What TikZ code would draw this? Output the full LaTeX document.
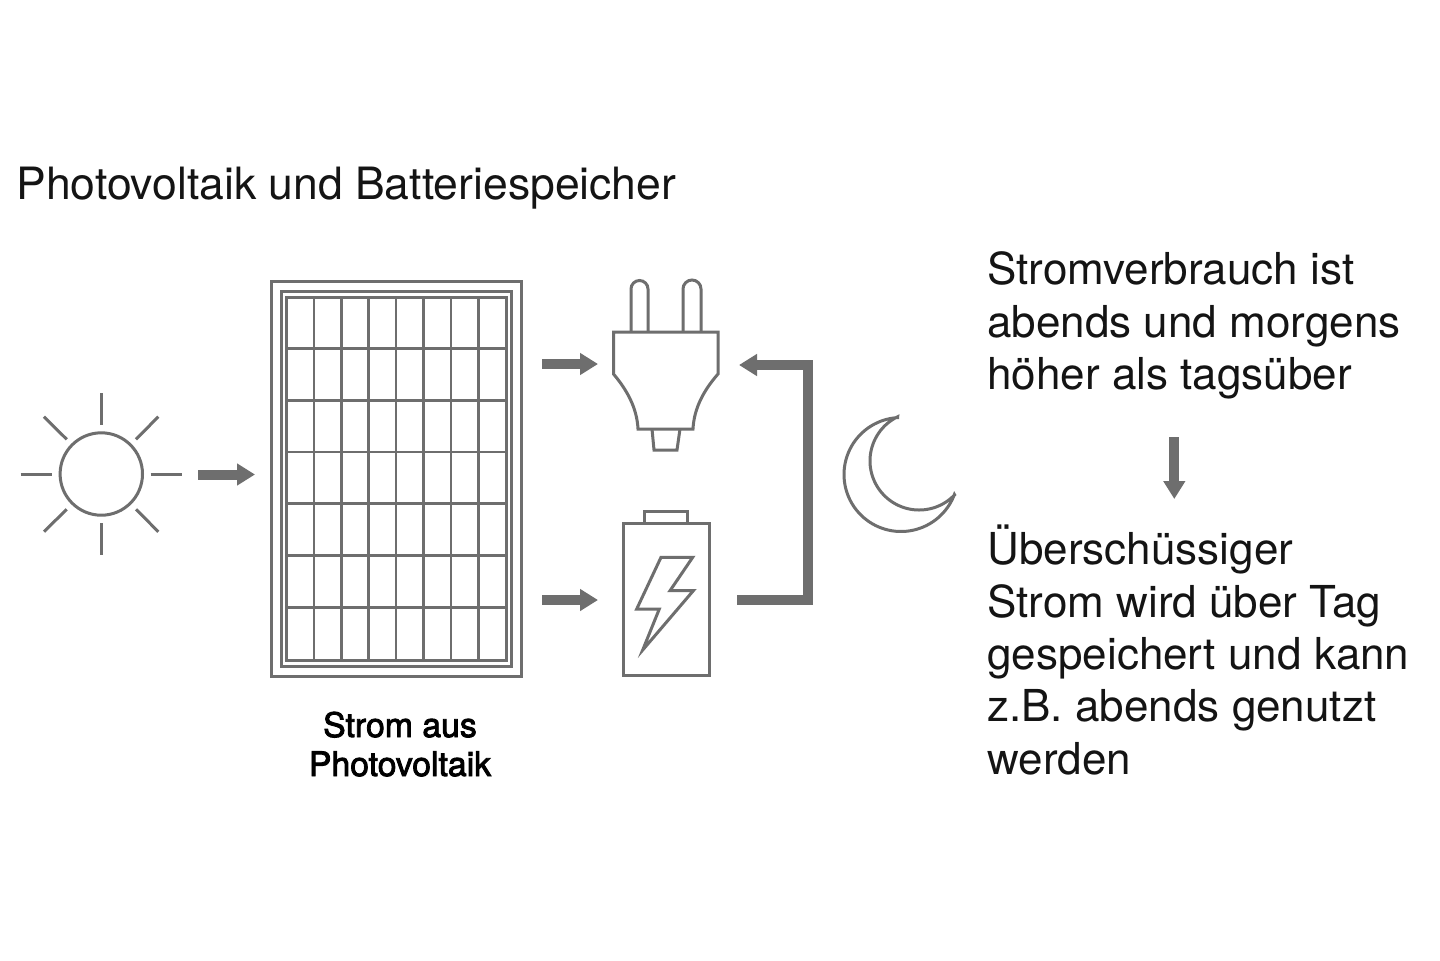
\documentclass[tikz,border=0pt]{standalone}
\usepackage{fontspec}
\usetikzlibrary{arrows.meta}
\setmainfont{TeX Gyre Heros}
\newfontfamily\labfont[FakeBold=2.5]{TeX Gyre Heros}
\definecolor{ink}{HTML}{6E6E6E}
\definecolor{txt}{HTML}{141414}
\tikzset{
  x=0.5pt,y=-0.5pt,
  icon/.style={draw=ink,line width=1.5pt,fill=none},
  thin icon/.style={draw=ink,line width=1.25pt},
  flow/.style={draw=ink,line width=5pt,-{Triangle[length=9pt,width=10.5pt]}},
  title text/.style={anchor=base west,inner sep=0pt,text=txt,font=\fontsize{22.25}{26}\selectfont},
  body text/.style={anchor=base west,inner sep=0pt,text=txt,font=\fontsize{22}{26}\selectfont},
  cap text/.style={anchor=base,inner sep=0pt,text=black,font=\labfont\fontsize{16.9}{20}\selectfont},
}
\begin{document}
\begin{tikzpicture}
\useasboundingbox[fill=white] (0,0) rectangle (1440,960);

% title
\node[title text] (title) at (16,199) {Photovoltaik und Batteriespeicher};

% sun
\draw[icon] (101.3,474) circle[radius=20.6pt];
\foreach \a/\b/\c/\d in {20.7/474/52/474,150.7/474/182/474,101.3/393/101.3/425,101.3/523/101.3/555,44/416.7/66.7/439.3,136/439.3/158.3/416.7,44/531.7/66.7/509.3,136/509.3/158.3/531.7}
  \draw[icon] (\a,\b) -- (\c,\d);

% panel
\draw[icon] (271,281) rectangle (521,676);
\draw[icon] (281,291) rectangle (511,666);
\draw[icon] (286.5,297) rectangle (506,660);
\foreach \x in {314,341.5,368.5,396,423.5,451,478.5}
  \draw[thin icon] (\x,297) -- (\x,660);
\foreach \y in {348.5,400.5,452,503.5,555.5,607.5}
  \draw[thin icon] (286.5,\y) -- (506,\y);

% plug
\draw[icon,line join=miter] (631,332) -- (631,289) arc[start angle=180,end angle=0,radius=4.25pt] -- (648,332);
\draw[icon,line join=miter] (683,332) -- (683,289) arc[start angle=180,end angle=0,radius=4.5pt] -- (701,332);
\draw[icon] (613.5,332) -- (718,332) -- (718,374) .. controls (704,390) and (694,408) .. (693,429)
  -- (638,429) .. controls (637,408) and (627,390) .. (613.5,374) -- cycle;
\draw[icon] (652,429) -- (654,450) -- (677,450) -- (680,429);

% battery
\draw[icon] (623,523.5) rectangle (709,675.5);
\draw[icon] (644,523.5) -- (644,511) -- (687,511) -- (687,523.5);
\draw[icon] (661,557.3) -- (692.7,557.3) -- (670,590.7) -- (693.3,590.7) -- (642.7,650) -- (659.3,609) -- (636.7,609) -- cycle;

% moon
\draw[icon,miter limit=30]
  plot[domain=266.7:20.5,samples=70] ({901+57*cos(\x)},{474.5+57*sin(\x)})
  -- plot[domain=43.7:244.2,samples=70] ({919.1+49.1*cos(\x)},{460.9+49.1*sin(\x)}) -- cycle;

% connector ends
\coordinate (sunOut) at (198,474.5);
\coordinate (panelIn) at (255,474.5);
\coordinate (plugFrom) at (542,364);
\coordinate (plugTo) at (598,364);
\coordinate (batFrom) at (542,600);
\coordinate (batTo) at (598,600);
\coordinate (retStart) at (737,600);
\coordinate (retCorner1) at (808,600);
\coordinate (retCorner2) at (808,365);
\coordinate (retEnd) at (739,365);
\coordinate (txtFrom) at (1174.3,437);
\coordinate (txtTo) at (1174.3,499);

\draw[flow] (sunOut) -- (panelIn);
\draw[flow] (plugFrom) -- (plugTo);
\draw[flow] (batFrom) -- (batTo);
\draw[flow,line join=miter] (retStart) -- (retCorner1) -- (retCorner2) -- (retEnd);
\draw[flow] (txtFrom) -- (txtTo);

% labels
\node[cap text] (cap1) at (400,737) {Strom aus};
\node[cap text] (cap2) at (400,776) {Photovoltaik};

\node[body text] (r1) at (987,284) {Stromverbrauch ist};
\node[body text] (r2) at (987,337) {abends und morgens};
\node[body text] (r3) at (987,389) {höher als tagsüber};
\node[body text] (r4) at (987,564) {Überschüssiger};
\node[body text] (r5) at (987,617) {Strom wird über Tag};
\node[body text] (r6) at (987,669) {gespeichert und kann};
\node[body text] (r7) at (987,721) {z.B. abends genutzt};
\node[body text] (r8) at (987,774) {werden};
\end{tikzpicture}
\end{document}
